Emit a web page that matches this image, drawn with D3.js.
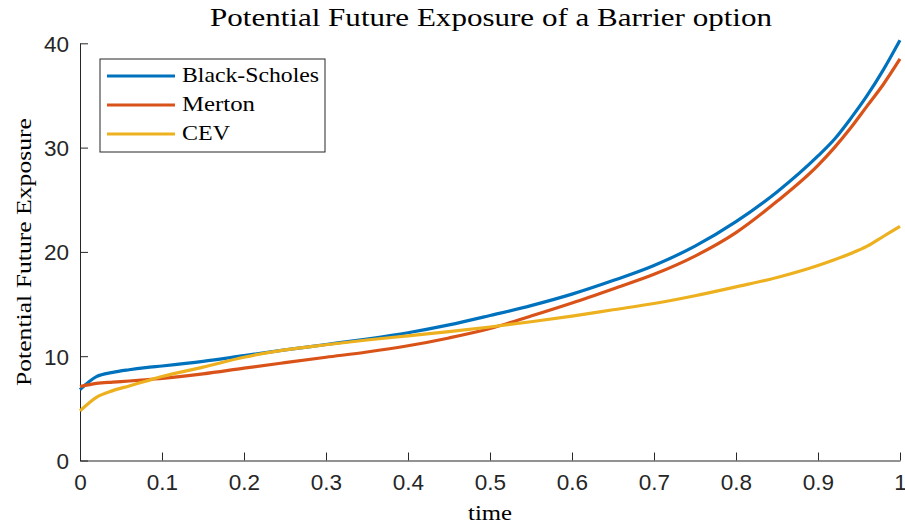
<!DOCTYPE html>
<html>
<head>
<meta charset="utf-8">
<script src="https://cdn.jsdelivr.net/npm/d3@7"></script>
<style>
  html, body { margin: 0; padding: 0; background: #fff; }
  svg { display: block; }
</style>
</head>
<body>
<svg id="chart" width="905" height="527"></svg>
<script>
const time = [0, 0.02, 0.04, 0.06, 0.08, 0.1, 0.15, 0.2, 0.25, 0.3, 0.35, 0.4, 0.45, 0.5, 0.55, 0.6, 0.65, 0.7, 0.75, 0.8, 0.85, 0.9, 0.92, 0.94, 0.96, 0.98, 1.0];
const blackScholes = [6.8, 8.04, 8.45, 8.7, 8.9, 9.06, 9.5, 10.05, 10.6, 11.12, 11.65, 12.25, 13.0, 13.9, 14.85, 15.95, 17.25, 18.7, 20.55, 22.9, 25.75, 29.2, 30.8, 32.8, 35.0, 37.5, 40.3];
const merton = [7.1, 7.4, 7.52, 7.62, 7.74, 7.86, 8.3, 8.85, 9.38, 9.9, 10.4, 11.0, 11.75, 12.65, 13.85, 15.1, 16.45, 17.85, 19.6, 21.85, 24.85, 28.3, 30.0, 31.9, 34.0, 36.1, 38.5];
const cev = [4.75, 6.06, 6.7, 7.15, 7.6, 8.05, 8.95, 9.9, 10.6, 11.1, 11.55, 11.95, 12.35, 12.8, 13.3, 13.85, 14.45, 15.05, 15.8, 16.65, 17.55, 18.7, 19.25, 19.85, 20.55, 21.5, 22.45];
const seriesNames = ["Black-Scholes", "Merton", "CEV"];
const seriesColors = ["#0072BD", "#D95319", "#EDB120"];
const xTicks = [0, 0.1, 0.2, 0.3, 0.4, 0.5, 0.6, 0.7, 0.8, 0.9, 1];
const yTicks = [0, 10, 20, 30, 40];
const titleText = "Potential Future Exposure of a Barrier option";
const xLabel = "time";
const yLabel = "Potential Future Exposure";

const svg = d3.select("#chart");
const axisColor = "#262626";
const serif = "'Liberation Serif', 'DejaVu Serif', serif";
const sans = "'Liberation Sans', Arial, sans-serif";

const x = d3.scaleLinear().domain([0, 1]).range([80, 900]);
const y = d3.scaleLinear().domain([0, 40]).range([460.5, 43.3]);

const series = [blackScholes, merton, cev];

// axes
const gx = svg.append("g").attr("transform", `translate(0,${y(0)})`)
  .call(d3.axisBottom(x).tickValues(xTicks).tickSizeInner(-8).tickSizeOuter(0).tickPadding(14)
    .tickFormat(d => d3.format("")(d)));
const gy = svg.append("g").attr("transform", `translate(${x(0)},0)`)
  .call(d3.axisLeft(y).tickValues(yTicks).tickSizeInner(-8).tickSizeOuter(0).tickPadding(11));

[gx, gy].forEach(g => {
  g.select(".domain").attr("stroke", axisColor).attr("stroke-width", 1);
  g.selectAll(".tick line").attr("stroke", axisColor).attr("stroke-width", 1);
  g.selectAll(".tick text").attr("fill", axisColor).style("font-family", sans).style("font-size", "22.5px");
});
gx.selectAll(".tick text").attr("dy", "0.71em");
gy.selectAll(".tick text").attr("dy", "0.35em");

// lines
const line = d3.line()
  .x((d, i) => x(time[i]))
  .y(d => y(d))
  .curve(d3.curveMonotoneX);

series.forEach((s, k) => {
  svg.append("path")
    .datum(s)
    .attr("fill", "none")
    .attr("stroke", seriesColors[k])
    .attr("stroke-width", 3.2)
    .attr("stroke-linejoin", "round")
    .attr("d", line);
});

// title
svg.append("text")
  .attr("x", 491).attr("y", 26)
  .attr("text-anchor", "middle")
  .attr("textLength", 562).attr("lengthAdjust", "spacingAndGlyphs")
  .style("font-family", serif).style("font-size", "26px").attr("fill", "#000")
  .text(titleText);

// x label
svg.append("text")
  .attr("x", 490).attr("y", 520)
  .attr("text-anchor", "middle")
  .attr("textLength", 44).attr("lengthAdjust", "spacingAndGlyphs")
  .style("font-family", serif).style("font-size", "22px").attr("fill", "#000")
  .text(xLabel);

// y label
svg.append("text")
  .attr("transform", "translate(31,252) rotate(-90)")
  .attr("text-anchor", "middle")
  .attr("textLength", 268).attr("lengthAdjust", "spacingAndGlyphs")
  .style("font-family", serif).style("font-size", "22px").attr("fill", "#000")
  .text(yLabel);

// legend
const legend = svg.append("g");
legend.append("rect")
  .attr("x", 100).attr("y", 59).attr("width", 225).attr("height", 93)
  .attr("fill", "#fff").attr("stroke", axisColor).attr("stroke-width", 1);
const legendRowY = [76, 105, 134];
const legendTextLen = [137, 73, 48];
seriesNames.forEach((name, k) => {
  legend.append("line")
    .attr("x1", 107).attr("x2", 175)
    .attr("y1", legendRowY[k]).attr("y2", legendRowY[k])
    .attr("stroke", seriesColors[k]).attr("stroke-width", 3.2);
  legend.append("text")
    .attr("x", 182).attr("y", legendRowY[k] + 6)
    .attr("textLength", legendTextLen[k]).attr("lengthAdjust", "spacingAndGlyphs")
    .style("font-family", serif).style("font-size", "22px").attr("fill", "#000")
    .text(name);
});
</script>
</body>
</html>
